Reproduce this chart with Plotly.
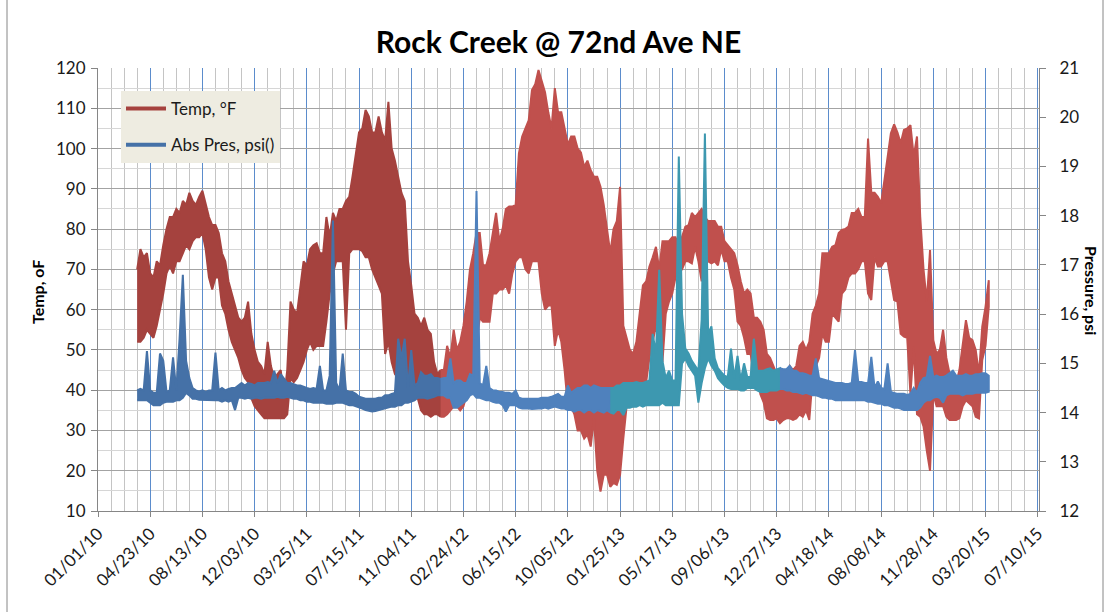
import pandas as pd
import plotly.graph_objects as go

# Weekly logger summaries (daily minimum / maximum envelope of each week)
SAMPLE_START = "2010-03-26"
SAMPLE_STEP_DAYS = 7

temp_low = [
    52, 52, 53, 55, 54, 53, 56, 60, 64, 69, 71, 69, 72, 72, 74, 76, 75, 77, 78, 78,
    79, 75, 68, 65, 68, 68, 61, 59, 55, 52, 50, 48, 45, 43, 42, 38, 36, 35, 34, 33,
    33, 33, 33, 33, 33, 33, 34, 43, 42, 43, 45, 47, 50, 52, 50, 51, 51, 51, 57, 64,
    69, 72, 72, 72, 55, 74, 75, 75, 75, 74.5, 73, 73, 70, 68, 66, 64, 49, 52, 47, 44,
    43, 44, 44, 41, 40, 39, 38, 35, 34, 34, 33.4, 34, 34, 33.4, 33.4, 34, 35, 36, 36, 35,
    36, 39, 42, 45, 52, 58, 57, 57, 57, 64, 64, 65, 65, 66, 64, 69, 72, 73, 73, 70,
    69, 72, 72, 72, 64, 60, 61, 61, 51, 55, 52, 45, 36, 36, 34, 30, 30, 28, 29, 26,
    33, 20, 14.8, 19, 19, 16, 17, 16.5, 19, 28, 36, 36, 36, 37, 38, 41, 42, 48, 52, 56,
    51, 47, 59, 62, 64, 68, 69, 70, 72, 72, 71.5, 75.6, 72, 67, 75.6, 72, 71.5, 72, 71, 75,
    72, 72, 68, 65, 57, 56, 53, 49, 49, 44, 44, 39, 37, 33, 32.6, 32.6, 33, 31.8, 32.6, 33,
    33, 32.6, 33, 34, 33.4, 35, 32.6, 43, 46, 48, 54, 52, 52, 59, 58, 57, 64, 65, 68, 69,
    69, 70, 72, 72, 64, 62.4, 73, 70.7, 70.7, 72, 72, 67, 62.4, 62, 54, 53.3, 53, 39, 50.8, 34,
    33.4, 31, 25, 20, 39, 36, 36, 36, 33.4, 32.6, 32.6, 32.6, 33, 36, 37.5, 36.7, 36, 33.4, 33, 47.5,
    51, 60.7,
]
temp_high = [
    70, 75, 73, 74, 69, 68, 72, 71, 76, 80, 83, 83, 85, 84, 87, 86, 89, 87, 86, 88,
    89.5, 86, 83, 81, 81, 79, 74, 72, 67, 64, 61, 58, 57, 58, 62, 54, 50, 47, 46, 44,
    52, 46, 43, 44, 45, 38, 45, 62, 60, 59, 66, 72, 71, 75, 76, 76.5, 74, 74, 83, 78,
    84, 82, 85, 85, 87, 88, 93, 98, 104, 105, 109.6, 108, 104, 104, 108, 104, 102, 111.6, 100, 97,
    93, 89, 87, 72, 66, 59, 58, 56, 58, 55, 54, 47, 44, 45, 45, 51, 48, 55, 50, 52,
    56, 62, 70, 74, 79, 79, 71, 71, 74, 79, 84, 77, 80, 85, 85.6, 85.6, 86, 98.8, 103, 105,
    107, 114.5, 116, 119.5, 117, 114, 109, 105, 115, 109, 109, 105, 101, 103, 103, 100, 99, 95.5, 97, 94.6,
    93, 93, 90.5, 86, 80, 74, 80, 82, 90.5, 56, 53, 50, 49, 52, 59, 66, 67, 70.7, 73, 75.6,
    70, 77, 77, 77, 78, 78, 75.6, 78, 80.6, 81, 84, 83, 84, 85, 83, 82, 82, 82, 80.6, 80.6,
    77, 76, 75, 74, 71, 67, 64, 65, 64, 58, 58, 57, 55, 49, 48, 46, 44, 42.5, 45, 44,
    46, 45, 46, 51, 52, 50, 52, 59, 61, 64, 74, 74, 74, 75.6, 76, 79, 79.8, 80, 80.6, 84,
    84, 85, 83, 83, 102.5, 89, 89, 88, 86.4, 92, 98, 103.8, 106, 104, 101.3, 104.6, 105, 105.8, 98, 103,
    83, 70, 62, 74.8, 52.4, 49, 50, 55, 48, 44, 42, 41.6, 45, 52, 57.4, 53, 52.4, 50, 44, 55.8,
    60.7, 67.3,
]
pres_low = [
    14.25, 14.25, 14.25, 14.25, 14.2, 14.15, 14.15, 14.15, 14.2, 14.22, 14.22, 14.22, 14.25, 14.25, 14.3, 14.4, 14.35, 14.28, 14.28, 14.26,
    14.25, 14.25, 14.25, 14.25, 14.25, 14.25, 14.22, 14.25, 14.22, 14.25, 14.05, 14.3, 14.3, 14.28, 14.3, 14.28, 14.3, 14.3, 14.28, 14.3,
    14.3, 14.3, 14.3, 14.32, 14.3, 14.3, 14.32, 14.3, 14.28, 14.28, 14.25, 14.25, 14.22, 14.22, 14.2, 14.2, 14.2, 14.2, 14.18, 14.18,
    14.18, 14.2, 14.2, 14.2, 14.18, 14.15, 14.15, 14.12, 14.1, 14.08, 14.05, 14.03, 14.02, 14.03, 14.05, 14.06, 14.08, 14.1, 14.12, 14.12,
    14.15, 14.15, 14.2, 14.2, 14.22, 14.25, 14.3, 14.3, 14.3, 14.28, 14.3, 14.32, 14.35, 14.35, 14.35, 14.3, 14.3, 14.1, 14.1, 14.15,
    14.2, 14.25, 14.35, 14.38, 14.3, 14.3, 14.28, 14.25, 14.25, 14.22, 14.2, 14.2, 14.15, 14.02, 14.15, 14.15, 14.15, 14.1, 14.08, 14.08,
    14.08, 14.07, 14.07, 14.08, 14.08, 14.1, 14.08, 14.1, 14.12, 14.1, 14.08, 14.08, 14.05, 14.05, 14.02, 14.05, 14.05, 14.0, 14.05, 14.05,
    14.0, 14.05, 14.02, 14.0, 14.05, 14.0, 13.98, 14.05, 14.05, 13.95, 14.1, 14.1, 14.12, 14.12, 14.15, 14.12, 14.15, 14.15, 14.15, 14.15,
    14.15, 14.2, 14.15, 14.15, 14.15, 14.15, 14.15, 15.0, 15.1, 14.95, 14.85, 14.75, 14.2, 14.6, 14.9, 15.1, 14.95, 14.85, 14.7, 14.62,
    14.55, 14.5, 14.48, 14.48, 14.48, 14.45, 14.45, 14.5, 14.5, 14.5, 14.45, 14.42, 14.42, 14.42, 14.45, 14.45, 14.45, 14.48, 14.48, 14.45,
    14.45, 14.42, 14.42, 14.4, 14.38, 14.4, 14.38, 14.35, 14.35, 14.33, 14.3, 14.3, 14.28, 14.28, 14.25, 14.25, 14.25, 14.25, 14.25, 14.25,
    14.25, 14.25, 14.25, 14.25, 14.22, 14.22, 14.2, 14.18, 14.18, 14.15, 14.15, 14.12, 14.1, 14.1, 14.08, 14.05, 14.05, 14.05, 14.05, 14.05,
    14.1, 14.2, 14.25, 14.25, 14.3, 14.32, 14.3, 14.2, 14.35, 14.38, 14.38, 14.38, 14.38, 14.35, 14.38, 14.38, 14.38, 14.4, 14.4, 14.4,
    14.4, 14.42,
]
pres_high = [
    14.45, 14.48, 14.45, 15.25, 14.45, 14.4, 14.4, 15.2, 15.05, 14.42, 14.45, 15.12, 14.45, 15.5, 16.8, 15.05, 14.7, 14.5, 14.45, 14.43,
    14.45, 14.42, 14.45, 14.45, 15.22, 14.45, 14.5, 14.45, 14.48, 14.5, 14.5, 14.55, 14.6, 14.55, 14.6, 14.58, 14.55, 14.6, 14.6, 14.6,
    14.62, 14.6, 14.85, 14.6, 14.78, 14.7, 14.6, 14.6, 14.58, 14.55, 14.55, 14.52, 14.5, 14.48, 14.5, 14.48, 14.95, 14.45, 14.45, 14.75,
    17.9, 14.6, 14.45, 15.2, 14.45, 14.42, 14.42, 14.38, 14.32, 14.3, 14.28, 14.28, 14.28, 14.28, 14.3, 14.3, 14.35, 14.35, 14.38, 14.4,
    15.5, 15.1, 15.5, 14.5, 15.27, 14.55, 14.6, 14.82, 14.75, 14.75, 14.78, 14.7, 14.7, 14.68, 14.7, 14.7, 15.1, 14.6, 14.65, 14.65,
    14.6, 14.6, 14.78, 14.75, 18.5, 14.6, 14.55, 14.95, 14.5, 14.45, 14.45, 14.42, 14.42, 14.4, 14.4, 14.38, 14.45, 14.3, 14.28, 14.28,
    14.28, 14.27, 14.28, 14.28, 14.3, 14.3, 14.3, 14.32, 14.35, 14.38, 14.32, 14.32, 14.55, 14.4, 14.45, 14.5, 14.5, 14.55, 14.55, 14.5,
    14.55, 14.52, 14.5, 14.5, 14.5, 14.5, 14.5, 14.55, 14.55, 14.6, 14.6, 14.6, 14.6, 14.62, 14.6, 14.6, 14.62, 14.65, 15.6, 15.2,
    16.9, 15.05, 14.7, 14.85, 14.65, 14.65, 19.2, 16.0, 15.3, 15.2, 15.05, 14.95, 14.85, 15.88, 19.67, 15.6, 15.75, 15.1, 14.9, 14.82,
    14.75, 14.72, 15.3, 14.7, 15.15, 14.66, 15.0, 14.72, 14.72, 15.5, 14.85, 14.85, 14.85, 14.88, 14.9, 14.85, 14.88, 14.9, 14.88, 14.88,
    14.95, 14.85, 14.85, 14.8, 14.8, 14.78, 14.75, 14.75, 15.1, 14.7, 14.68, 14.66, 14.65, 14.62, 14.6, 14.6, 14.6, 14.58, 14.58, 14.6,
    15.27, 14.62, 14.62, 14.6, 14.6, 15.13, 14.5, 14.63, 14.5, 14.48, 15.0, 14.42, 14.4, 14.38, 14.38, 14.38, 14.36, 14.38, 14.5, 14.4,
    14.6, 14.7, 14.72, 15.15, 14.72, 14.75, 14.72, 14.72, 14.75, 14.8, 14.85, 14.75, 14.75, 14.75, 14.78, 14.75, 14.75, 14.78, 14.78, 14.8,
    14.8, 14.75,
]

# Logger deployments, each drawn in its own colour
temp_periods = [
    ("2010-01-01", "2012-01-01", "#a5423e"),
    ("2012-01-01", "2016-01-01", "#c0504d"),
]
pres_periods = [
    ("2010-01-01", "2012-01-01", "#4571a7"),
    ("2012-01-01", "2013-01-01", "#4f81bd"),
    ("2013-01-01", "2014-01-01", "#3d98b0"),
    ("2014-01-01", "2016-01-01", "#4f81bd"),
]

X_START = "2010-01-01"
X_END = "2015-07-12 18:00"
X_TICK_DAYS = 112
X_MINOR_DAYS = 28
DAY_MS = 86400000

dates = pd.date_range(SAMPLE_START, periods=len(temp_low), freq=f"{SAMPLE_STEP_DAYS}D")


def band(lo, hi, start, end):
    """Closed polygon between the weekly minimum and maximum inside a period."""
    t0, t1 = pd.Timestamp(start), pd.Timestamp(end)
    idx = [i for i, d in enumerate(dates) if t0 <= d < t1]
    if idx and idx[-1] + 1 < len(dates):
        idx.append(idx[-1] + 1)  # join onto the next deployment
    xs = [dates[i] for i in idx] + [dates[i] for i in reversed(idx)]
    ys = [hi[i] for i in idx] + [lo[i] for i in reversed(idx)]
    return xs, ys


fig = go.Figure()

for start, end, color in temp_periods:
    xs, ys = band(temp_low, temp_high, start, end)
    fig.add_trace(go.Scatter(
        x=xs, y=ys, mode="lines", fill="toself", fillcolor=color,
        line=dict(color=color, width=2), showlegend=False, hoverinfo="skip",
    ))

for start, end, color in pres_periods:
    xs, ys = band(pres_low, pres_high, start, end)
    fig.add_trace(go.Scatter(
        x=xs, y=ys, mode="lines", fill="toself", fillcolor=color,
        line=dict(color=color, width=2), yaxis="y2", showlegend=False, hoverinfo="skip",
    ))

# legend entries
fig.add_trace(go.Scatter(x=[None], y=[None], mode="lines", name="Temp, °F",
                         line=dict(color=temp_periods[0][2], width=4), legendgroup="t"))
fig.add_trace(go.Scatter(x=[None], y=[None], mode="lines", name="Abs Pres, psi()",
                         line=dict(color=pres_periods[0][2], width=4), legendgroup="p"))

AX = "#868686"
fig.update_layout(
    width=1117, height=612,
    margin=dict(l=98, r=78, t=68, b=101),
    paper_bgcolor="white", plot_bgcolor="white",
    font=dict(family="Lato", size=17, color="#1a1a1a"),
    title=dict(text="<b>Rock Creek @ 72nd Ave NE</b>", x=0.5, xanchor="center",
               y=1 - 42 / 612, yanchor="middle", font=dict(size=30, color="black")),
    xaxis=dict(
        type="date", range=[X_START, X_END], tick0=X_START, dtick=X_TICK_DAYS * DAY_MS,
        tickformat="%m/%d/%y", tickangle=-45, tickfont=dict(size=17),
        showgrid=True, gridcolor="#5b8ccc", gridwidth=1,
        minor=dict(tick0=X_START, dtick=X_MINOR_DAYS * DAY_MS, showgrid=True,
                   gridcolor="#c4c4c4", gridwidth=1),
        showline=True, linecolor=AX, ticks="outside", ticklen=5, tickcolor=AX,
        zeroline=False,
    ),
    yaxis=dict(
        range=[10, 120], tick0=10, dtick=10, showgrid=True, gridcolor="#a3a3a3",
        minor=dict(dtick=5, showgrid=True, gridcolor="#d6d6d6"),
        showline=True, linecolor=AX, ticks="outside", ticklen=6, tickcolor=AX,
        zeroline=False, tickfont=dict(size=17), ticklabelstandoff=2,
    ),
    yaxis2=dict(
        range=[12, 21], tick0=12, dtick=1, overlaying="y", side="right",
        showgrid=False, showline=True, linecolor=AX, ticks="outside", ticklen=6,
        tickcolor=AX, zeroline=False, tickfont=dict(size=17), ticklabelstandoff=10,
    ),
    legend=dict(
        x=(121 - 98) / 941, y=1 - (91 - 68) / 443, xanchor="left", yanchor="top",
        bgcolor="#eeece1", borderwidth=0, font=dict(size=17, color="#1a1a1a"),
        tracegroupgap=11, itemwidth=40,
    ),
    annotations=[
        dict(text="<b>Temp, oF</b>", xref="paper", yref="paper",
             x=(37 - 98) / 941, y=(511 - 292) / 443, textangle=-90, showarrow=False,
             font=dict(size=16, color="black"), xanchor="center", yanchor="middle"),
        dict(text="<b>Pressure, psi</b>", xref="paper", yref="paper",
             x=(1092 - 98) / 941, y=(511 - 290) / 443, textangle=90, showarrow=False,
             font=dict(size=16, color="black"), xanchor="center", yanchor="middle"),
    ],
    shapes=[
        dict(type="line", xref="paper", yref="paper", x0=(7 - 98) / 941, x1=(7 - 98) / 941,
             y0=(511 - 612) / 443, y1=(511 + 0) / 443, line=dict(color=AX, width=1)),
        dict(type="line", xref="paper", yref="paper", x0=(1103 - 98) / 941, x1=(1103 - 98) / 941,
             y0=(511 - 612) / 443, y1=(511 + 0) / 443, line=dict(color=AX, width=1)),
    ],
)

fig.write_html("out.html")
